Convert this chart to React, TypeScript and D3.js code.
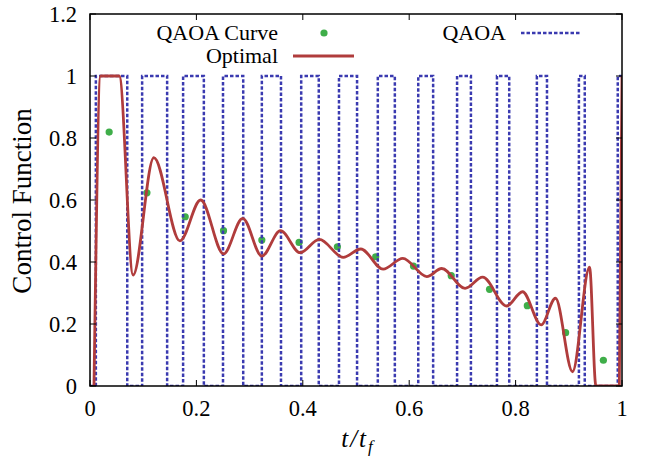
import React from "react";
import * as d3 from "d3";

// QAOA bang-bang pulses: switch-on and switch-off times (t/tf)
const pulseOn = [0.011, 0.098, 0.175, 0.25, 0.323, 0.397, 0.468, 0.541, 0.617, 0.69, 0.765, 0.84, 0.919, 0.992];
const pulseOff = [0.07, 0.145, 0.214, 0.288, 0.359, 0.43, 0.502, 0.573, 0.645, 0.716, 0.788, 0.859, 0.93, 1.0];

// QAOA curve points
const curveT = [0.036, 0.107, 0.179, 0.251, 0.323, 0.393, 0.465, 0.537, 0.608, 0.679, 0.751, 0.822, 0.894, 0.965];
const curveV = [0.819, 0.623, 0.546, 0.501, 0.471, 0.463, 0.449, 0.417, 0.387, 0.356, 0.312, 0.259, 0.172, 0.083];

// optimal control (extrema)
const optT = [0.0075, 0.02, 0.055, 0.081, 0.12, 0.169, 0.208, 0.251, 0.287, 0.323, 0.358, 0.395, 0.431, 0.476, 0.509, 0.551, 0.588, 0.633, 0.661, 0.705, 0.738, 0.783, 0.813, 0.848, 0.875, 0.907, 0.939, 0.951, 0.995, 1.0];
const optV = [0, 1, 1, 0.358, 0.737, 0.468, 0.6, 0.426, 0.541, 0.419, 0.501, 0.43, 0.473, 0.415, 0.442, 0.377, 0.412, 0.353, 0.379, 0.315, 0.351, 0.258, 0.304, 0.197, 0.283, 0.046, 0.383, 0, 0, 1];

const xTicks = [0, 0.2, 0.4, 0.6, 0.8, 1];
const yTicks = [0, 0.2, 0.4, 0.6, 0.8, 1, 1.2];

const W = 649;
const H = 457;
const left = 90, right = 622, top = 14, bottom = 386;
const RED = "#b03c3c";
const BLUE = "#3a3ab0";
const GREEN = "#3fae49";

export default function App() {
  const x = d3.scaleLinear().domain([0, 1]).range([left, right]);
  const y = d3.scaleLinear().domain([0, 1.2]).range([bottom, top]);

  const pulsePts: [number, number][] = [[0, 0]];
  pulseOn.forEach((on, i) => {
    pulsePts.push([on, 0], [on, 1], [pulseOff[i], 1]);
    if (pulseOff[i] < 1) pulsePts.push([pulseOff[i], 0]);
  });
  const stepLine = d3.line<[number, number]>().x((d) => x(d[0])).y((d) => y(d[1]));

  const optLine = d3
    .line<number>()
    .x((_, i) => x(optT[i]))
    .y((d) => y(d))
    .curve(d3.curveMonotoneX);

  const fmt = (v: number) => (v === 0 || v === 1 ? String(v) : v.toFixed(1));
  const tl = 6;
  const txt = { fontFamily: "serif" };

  return (
    <svg width={W} height={H} style={{ position: "absolute", left: 0, top: 0, background: "#fff" }}>
      <defs>
        <clipPath id="plot">
          <rect x={left} y={top} width={right - left} height={bottom - top} />
        </clipPath>
      </defs>

      <g clipPath="url(#plot)">
        {curveT.map((t, i) => (
          <circle key={i} cx={x(t)} cy={y(curveV[i])} r={3.6} fill={GREEN} />
        ))}
        <path d={stepLine(pulsePts) || ""} fill="none" stroke={BLUE} strokeWidth={2.5} strokeDasharray="3.5,2" />
        <path d={optLine(optV) || ""} fill="none" stroke={RED} strokeWidth={2.8} />
      </g>

      {/* frame & ticks */}
      <rect x={left} y={top} width={right - left} height={bottom - top} fill="none" stroke="#000" strokeWidth={1.5} />
      {xTicks.map((t) => (
        <g key={"x" + t}>
          <line x1={x(t)} x2={x(t)} y1={bottom} y2={bottom - tl} stroke="#000" strokeWidth={1} />
          <line x1={x(t)} x2={x(t)} y1={top} y2={top + tl} stroke="#000" strokeWidth={1} />
          <text x={x(t)} y={bottom + 30} fontSize={22.5} textAnchor="middle" style={txt}>
            {fmt(t)}
          </text>
        </g>
      ))}
      {yTicks.map((v) => (
        <g key={"y" + v}>
          <line x1={left} x2={left + tl} y1={y(v)} y2={y(v)} stroke="#000" strokeWidth={1} />
          <line x1={right} x2={right - tl} y1={y(v)} y2={y(v)} stroke="#000" strokeWidth={1} />
          <text x={77} y={y(v) + 7.5} fontSize={22.5} textAnchor="end" style={txt}>
            {fmt(v)}
          </text>
        </g>
      ))}

      <text transform={`translate(31,${(top + bottom) / 2 + 1}) rotate(-90)`} fontSize={27} textAnchor="middle" style={txt}>
        Control Function
      </text>
      <text x={358} y={447} fontSize={25} textAnchor="middle" fontStyle="italic" letterSpacing={2} style={txt}>
        t/t<tspan fontSize={17} dy={5}>f</tspan>
      </text>

      {/* legend */}
      <text x={278} y={40} fontSize={22} textAnchor="end" style={txt}>QAOA Curve</text>
      <circle cx={324} cy={33} r={3.6} fill={GREEN} />
      <text x={278} y={63} fontSize={22} textAnchor="end" style={txt}>Optimal</text>
      <line x1={293} x2={354} y1={56} y2={56} stroke={RED} strokeWidth={2.8} />
      <text x={506} y={40} fontSize={22} textAnchor="end" style={txt}>QAOA</text>
      <line x1={521} x2={581} y1={33} y2={33} stroke={BLUE} strokeWidth={2.5} strokeDasharray="3.5,2" />
    </svg>
  );
}
